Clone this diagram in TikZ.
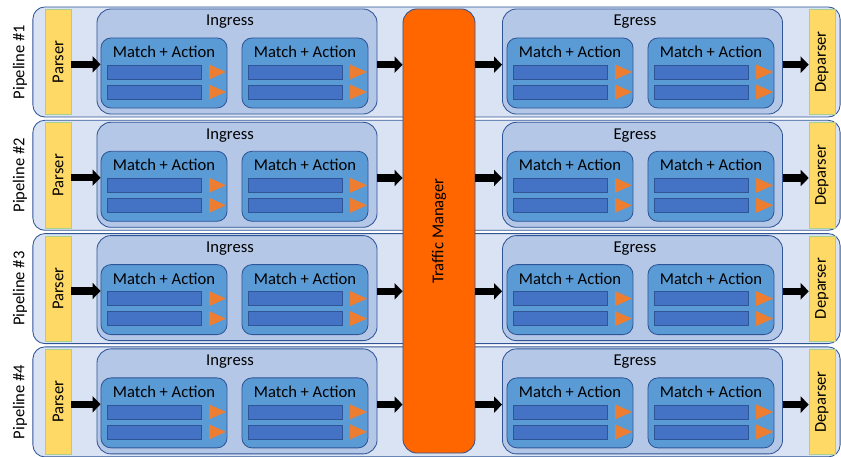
\documentclass[tikz,border=0pt]{standalone}
\usepackage{fontspec}
\setmainfont{Carlito}
\usepackage{tikz}
\usetikzlibrary{arrows.meta,shapes,shapes.geometric,positioning}
\definecolor{pldark}{RGB}{47,85,151}
\definecolor{plpale}{RGB}{218,227,243}
\definecolor{plstage}{RGB}{180,199,231}
\definecolor{plmatch}{RGB}{91,155,213}
\definecolor{plbar}{RGB}{68,114,196}
\definecolor{plorange}{RGB}{237,125,49}
\definecolor{plparser}{RGB}{255,217,102}
\definecolor{plgreen}{RGB}{169,209,142}
\definecolor{pltm}{RGB}{255,102,0}
\tikzstyle{pipe} = [rectangle, rounded corners=0.3cm, minimum width=20.175cm, minimum height=2.75cm, draw=pldark, fill=plpale, semithick]
\tikzstyle{parser} = [rectangle, minimum width=0.65cm, minimum height=2.625cm, inner sep=0pt, draw=plgreen, fill=plparser]
\tikzstyle{stage} = [rectangle, rounded corners=0.35cm, minimum width=7cm, minimum height=2.625cm, draw=pldark, fill=plstage, semithick]
\tikzstyle{match} = [rectangle, rounded corners=0.25cm, minimum width=3.15cm, minimum height=1.75cm, draw=pldark, fill=plmatch, semithick]
\tikzstyle{bar} = [rectangle, minimum width=2.35cm, minimum height=0.35cm, inner sep=0pt, draw=pldark, fill=plbar]
\tikzstyle{tri} = [isosceles triangle, isosceles triangle stretches, minimum width=0.37cm, minimum height=0.42cm, inner sep=0pt, fill=plorange]
\tikzstyle{tm} = [rectangle, rounded corners=0.35cm, minimum width=1.8cm, minimum height=11.1cm, draw=pldark, fill=pltm, semithick]
\tikzstyle{arrow} = [line width=5.2pt, -{Triangle[length=0.2cm, width=0.4cm]}, black]

\begin{document}
\begin{tikzpicture}[x=0.025cm, y=-0.025cm, every node/.style={font=\fontsize{11.8}{13}\selectfont}]
\useasboundingbox (0,0) rectangle (841,457);

% Pipelines
\foreach \r in {1,...,4}{
  \pgfmathsetmacro{\yy}{7+113.3*(\r-1)}
  \node[pipe] (pipe\r) at (436.5,\yy+55) {};
  \node[rotate=90] (lbl\r) at (20,\yy+55) {Pipeline \#\r};
  \node[parser] (prs\r) at (58,\yy+55) {\rotatebox{90}{Parser}};
  \node[parser] (dep\r) at (822,\yy+55) {\rotatebox{90}{Deparser}};
  \node[stage] (ing\r) at (237,\yy+54.5) {};
  \node[stage] (egr\r) at (642.5,\yy+54.5) {};
  \node (ingt\r) at (230,\yy+15) {Ingress};
  \node (egrt\r) at (635,\yy+15) {Egress};
  % Match + Action tables
  \foreach \c/\mx in {1/164,2/305,3/570,4/711}{
    \node[match] (ma\r-\c) at (\mx,\yy+66) {};
    \node (mat\r-\c) at (\mx,\yy+45) {Match + Action};
    \node[bar] (bar\r-\c-1) at (\mx-10,\yy+65) {};
    \node[bar] (bar\r-\c-2) at (\mx-10,\yy+85) {};
    \node[tri] (tri\r-\c-1) at (\mx+50,\yy+65) {};
    \node[tri] (tri\r-\c-2) at (\mx+50,\yy+85) {};
  }
}

% Traffic manager
\node[tm] (tm) at (439,231) {\rotatebox{90}{Traffic Manager}};

% Connections
\foreach \r in {1,...,4}{
  \draw[arrow] ([yshift=-0.06cm]prs\r.east) -- ([yshift=-0.06cm]prs\r.east -| ma\r-1.west);
  \draw[arrow] ([yshift=-0.08cm]ing\r.east) -- ([yshift=-0.08cm]ing\r.east -| tm.west);
  \draw[arrow] ([yshift=-0.08cm]egr\r.west -| tm.east) -- ([yshift=-0.08cm]egr\r.west);
  \draw[arrow] ([yshift=-0.08cm]egr\r.east) -- ([yshift=-0.08cm]egr\r.east -| dep\r.west);
}
\end{tikzpicture}
\end{document}
